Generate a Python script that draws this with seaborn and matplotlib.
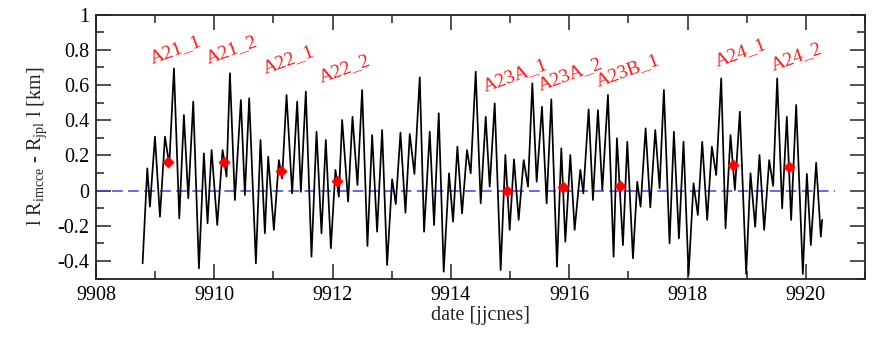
import numpy as np
import pandas as pd
import matplotlib
matplotlib.use("Agg")
import matplotlib.pyplot as plt
from matplotlib.ticker import MultipleLocator, FormatStrFormatter
import seaborn as sns

# ---- data ----
date = [9908.788, 9908.867, 9908.912, 9908.997, 9909.081, 9909.166, 9909.239, 9909.318,
        9909.408, 9909.486, 9909.560, 9909.644, 9909.740, 9909.824, 9909.886, 9909.954,
        9910.050, 9910.140, 9910.207, 9910.264, 9910.348, 9910.449, 9910.517, 9910.590,
        9910.703, 9910.781, 9910.855, 9910.911, 9911.007, 9911.091, 9911.147, 9911.221,
        9911.316, 9911.401, 9911.463, 9911.547, 9911.643, 9911.728, 9911.812, 9911.885,
        9911.970, 9912.048, 9912.105, 9912.161, 9912.262, 9912.336, 9912.420, 9912.499,
        9912.589, 9912.668, 9912.752, 9912.837, 9912.921, 9913.006, 9913.068, 9913.147,
        9913.231, 9913.304, 9913.383, 9913.473, 9913.546, 9913.642, 9913.715, 9913.794,
        9913.878, 9913.968, 9914.036, 9914.109, 9914.188, 9914.272, 9914.334, 9914.419,
        9914.503, 9914.588, 9914.655, 9914.740, 9914.841, 9914.920, 9914.993, 9915.066,
        9915.145, 9915.230, 9915.303, 9915.376, 9915.449, 9915.539, 9915.618, 9915.697,
        9915.793, 9915.866, 9915.934, 9916.018, 9916.091, 9916.187, 9916.238, 9916.328,
        9916.401, 9916.485, 9916.559, 9916.654, 9916.750, 9916.806, 9916.908, 9916.981,
        9917.077, 9917.150, 9917.206, 9917.291, 9917.370, 9917.454, 9917.527, 9917.600,
        9917.696, 9917.769, 9917.854, 9917.932, 9918.017, 9918.101, 9918.174, 9918.248,
        9918.332, 9918.411, 9918.484, 9918.569, 9918.642, 9918.726, 9918.800, 9918.884,
        9918.991, 9919.064, 9919.143, 9919.216, 9919.295, 9919.380, 9919.447, 9919.515,
        9919.599, 9919.678, 9919.751, 9919.836, 9919.949, 9920.017, 9920.084, 9920.174,
        9920.253, 9920.275]
diff_km = [-0.413, 0.127, -0.091, 0.307, -0.148, 0.307, 0.146, 0.695,
           -0.157, 0.430, -0.043, 0.506, -0.441, 0.212, -0.185, 0.231,
           -0.195, 0.231, 0.080, 0.667, -0.053, 0.515, -0.024, 0.525,
           -0.413, 0.288, -0.242, 0.193, -0.223, 0.174, 0.070, 0.544,
           -0.015, 0.506, -0.006, 0.563, -0.375, 0.335, -0.242, 0.288,
           -0.327, 0.118, -0.034, 0.402, -0.062, 0.420, 0.032, 0.572,
           -0.314, 0.316, -0.233, 0.345, -0.422, 0.065, -0.076, 0.330,
           -0.125, 0.322, 0.095, 0.644, -0.233, 0.335, -0.195, 0.440,
           -0.460, 0.099, -0.176, 0.250, -0.129, 0.231, 0.099, 0.676,
           -0.072, 0.420, 0.023, 0.496, -0.451, 0.203, -0.223, 0.178,
           -0.166, 0.174, 0.023, 0.610, 0.051, 0.477, -0.072, 0.519,
           -0.432, 0.241, -0.290, 0.203, -0.223, 0.118, -0.015, 0.462,
           -0.053, 0.458, 0.004, 0.544, -0.375, 0.298, -0.309, 0.278,
           -0.384, 0.051, -0.091, 0.354, -0.095, 0.345, 0.014, 0.572,
           -0.299, 0.335, -0.271, 0.278, -0.479, 0.042, -0.138, 0.278,
           -0.166, 0.250, 0.089, 0.638, -0.214, 0.316, 0.004, 0.449,
           -0.473, 0.099, -0.205, 0.203, -0.223, 0.174, 0.027, 0.638,
           -0.100, 0.420, -0.166, 0.487, -0.473, 0.095, -0.309, 0.159,
           -0.261, -0.166]

event_names = ["A21_1", "A21_2", "A22_1", "A22_2", "A23A_1", "A23A_2", "A23B_1", "A24_1", "A24_2"]
event_date = [9909.222, 9910.168, 9911.125, 9912.082, 9914.943, 9915.894, 9916.863, 9918.765, 9919.723]
event_diff = [0.165, 0.165, 0.114, 0.057, 0.000, 0.019, 0.028, 0.146, 0.135]
label_x = [9908.958, 9909.897, 9910.855, 9911.813, 9914.571, 9915.512, 9916.485, 9918.495, 9919.441]
label_y = [0.724, 0.724, 0.670, 0.619, 0.563, 0.572, 0.591, 0.705, 0.686]

x_ticks = [9908, 9910, 9912, 9914, 9916, 9918, 9920]

# ---- styling ----
sns.set_theme(style="ticks")
plt.rcParams["font.family"] = ["Liberation Serif", "DejaVu Serif"]
plt.rcParams["mathtext.fontset"] = "stix"
plt.rcParams["mathtext.default"] = "regular"
plt.rcParams["axes.unicode_minus"] = False

fig = plt.figure(figsize=(8.75, 3.4), dpi=100)
ax = fig.add_axes([0.1097, 0.1803, 0.8789, 0.7765])

line_df = pd.DataFrame({"date": date, "diff": diff_km})
ev_df = pd.DataFrame({"date": event_date, "diff": event_diff, "name": event_names})

ax.plot([9908, 9920.5], [0, 0], color="#3c3cff", lw=1.1, dashes=(7, 3.5), zorder=1)
sns.lineplot(data=line_df, x="date", y="diff", ax=ax, color="black", lw=1.25,
             sort=False, estimator=None, zorder=2)
sns.scatterplot(data=ev_df, x="date", y="diff", ax=ax, color="red", marker="D",
                s=32, edgecolor="red", linewidth=0.5, zorder=3)

for name, lx, ly in zip(event_names, label_x, label_y):
    ax.text(lx, ly, name, color="#ff1a1a", fontsize=14, rotation=20,
            rotation_mode="anchor", ha="left", va="baseline")

ax.set_xlim(9908, 9921)
ax.set_ylim(-0.5, 1.0)
ax.set_xticks(x_ticks)
ax.xaxis.set_minor_locator(MultipleLocator(1))
ax.yaxis.set_major_locator(MultipleLocator(0.2))
ax.yaxis.set_minor_locator(MultipleLocator(0.1))
ax.yaxis.set_major_formatter(FormatStrFormatter("%g"))
ax.xaxis.set_major_formatter(FormatStrFormatter("%d"))

ax.tick_params(which="both", direction="in", top=True, right=True, colors="#222222",
               labelsize=14.5, labelcolor="black")
ax.tick_params(which="major", length=11, width=1.1, pad=5)
ax.tick_params(which="minor", length=5.5, width=1.1)
for sp in ax.spines.values():
    sp.set_linewidth(1.3)
    sp.set_color("#222222")

ax.set_xlabel("date [jjcnes]", fontsize=14.5, labelpad=1)
ax.set_ylabel(r"l R$_{imcce}$ - R$_{jpl}$ l [km]", fontsize=14.5, labelpad=6)

fig.savefig("out.png", dpi=100)
